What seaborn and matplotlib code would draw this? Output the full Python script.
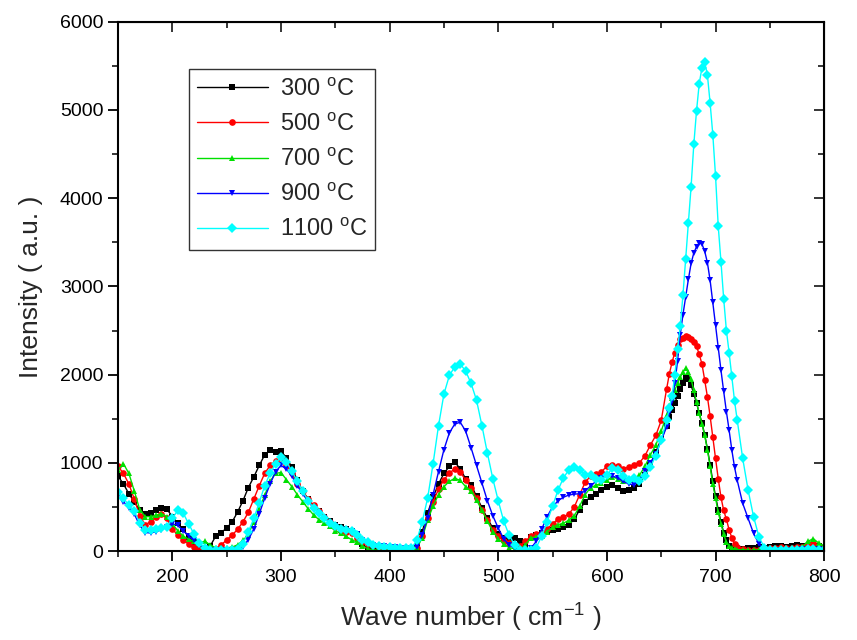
import matplotlib
matplotlib.use("Agg")
import matplotlib.pyplot as plt
import seaborn as sns
import pandas as pd
from matplotlib.ticker import MultipleLocator

# ---------------- data ----------------
wavenumber = [150, 155, 160, 165, 170, 175, 180, 185, 190, 195,
              200, 205, 210, 215, 220, 225, 230, 235, 240, 245,
              250, 255, 260, 265, 270, 275, 280, 285, 290, 295,
              300, 305, 310, 315, 320, 325, 330, 335, 340, 345,
              350, 355, 360, 365, 370, 375, 380, 385, 390, 395,
              400, 405, 410, 415, 420, 425, 430, 435, 440, 445,
              450, 455, 460, 465, 470, 475, 480, 485, 490, 495,
              500, 505, 510, 515, 520, 525, 530, 535, 540, 545,
              550, 555, 560, 565, 570, 575, 580, 585, 590, 595,
              600, 605, 610, 615, 620, 625, 630, 635, 640, 645, 650, 655,
              657.5, 660, 662.5, 665, 667.5, 670, 672.5, 675, 677.5, 680,
              682.5, 685, 687.5, 690, 692.5, 695, 697.5, 700, 702.5, 705,
              707.5, 710, 712.5, 715, 717.5,
              720, 725, 730, 735, 740, 745, 750, 755, 760, 765,
              770, 775, 780, 785, 790, 795, 800]

int_300 = [850, 760, 650, 555, 465, 420, 435, 460, 490, 475,
           390, 315, 245, 160, 105, 60, 30, 60, 170, 210,
           260, 330, 440, 570, 720, 840, 970, 1090, 1145, 1120,
           1130, 1060, 950, 800, 680, 590, 510, 450, 390, 340,
           300, 270, 250, 230, 190, 80, 20, 10, 10, 10,
           10, 10, 10, 10, 15, 60, 220, 430, 610, 760,
           880, 960, 1010, 930, 820, 750, 620, 490, 370, 260,
           190, 150, 125, 150, 110, 80, 160, 180, 200, 220,
           240, 255, 270, 300, 360, 470, 560, 615, 650, 690,
           730, 745, 710, 685, 690, 710, 760, 860, 980, 1120, 1270, 1420,
           1520, 1600, 1680, 1760, 1840, 1900, 1960, 1950, 1880, 1780,
           1680, 1560, 1450, 1320, 1160, 980, 790, 620, 470, 330,
           210, 120, 60, 35, 25,
           20, 25, 30, 40, 45, 40, 50, 60, 55, 50,
           60, 70, 60, 55, 65, 60, 40]

int_500 = [960, 880, 760, 590, 400, 300, 330, 390, 420, 370,
           250, 180, 125, 80, 45, 20, 10, 10, 25, 70,
           125, 180, 245, 330, 440, 590, 740, 880, 970, 1020,
           1050, 980, 880, 760, 680, 590, 520, 450, 390, 330,
           270, 230, 215, 200, 150, 105, 85, 65, 45, 30,
           30, 30, 30, 30, 25, 40, 170, 380, 560, 700,
           810, 880, 935, 900, 800, 720, 600, 470, 350, 240,
           170, 110, 90, 70, 60, 110, 170, 190, 200, 250,
           310, 360, 385, 420, 500, 640, 780, 850, 870, 900,
           960, 980, 960, 935, 950, 980, 1000, 1080, 1200, 1310, 1480, 1840,
           2010, 2140, 2250, 2340, 2400, 2420, 2440, 2430, 2400, 2370,
           2320, 2230, 2120, 1940, 1750, 1530, 1290, 1050, 820, 610,
           460, 360, 240, 150, 85,
           50, 25, 15, 10, 10, 20, 30, 40, 50, 40,
           40, 45, 50, 80, 90, 60, 40]

int_700 = [920, 990, 880, 680, 470, 390, 390, 405, 425, 390,
           310, 230, 170, 135, 110, 95, 110, 70, 35, 30,
           35, 45, 70, 120, 190, 330, 480, 630, 790, 880,
           890, 810, 730, 640, 560, 480, 410, 355, 320, 280,
           230, 200, 165, 130, 100, 60, 25, 15, 10, 10,
           10, 10, 10, 10, 10, 30, 150, 350, 510, 640,
           730, 790, 825, 800, 730, 680, 580, 460, 340, 220,
           140, 80, 40, 25, 20, 70, 150, 160, 170, 220,
           270, 300, 315, 350, 400, 510, 640, 720, 745, 770,
           805, 840, 820, 790, 800, 800, 860, 960, 1090, 1200, 1360, 1540,
           1640, 1730, 1820, 1900, 1970, 2030, 2070, 2030, 1950, 1820,
           1690, 1560, 1440, 1310, 1150, 960, 760, 600, 440, 310,
           190, 100, 55, 30, 20,
           15, 15, 10, 10, 15, 20, 30, 35, 40, 35,
           30, 40, 50, 110, 140, 90, 60]

int_900 = [620, 560, 490, 420, 290, 210, 205, 220, 240, 275,
           310, 290, 230, 170, 120, 70, 35, 15, 10, 10,
           10, 10, 20, 45, 130, 250, 420, 600, 760, 900,
           970, 930, 850, 740, 650, 560, 490, 430, 370, 320,
           280, 255, 240, 225, 190, 130, 90, 70, 60, 55,
           50, 45, 40, 30, 20, 50, 180, 380, 640, 900,
           1150, 1340, 1440, 1460, 1360, 1170, 970, 770, 570, 400,
           260, 140, 70, 30, 10, 10, 30, 110, 250, 390,
           500, 570, 610, 635, 645, 650, 680, 740, 790, 830,
           860, 850, 830, 790, 760, 750, 810, 910, 1000, 1100, 1250, 1410,
           1560, 1700, 1900, 2150, 2450, 2680, 2880, 3080, 3260, 3380,
           3450, 3490, 3480, 3400, 3270, 3070, 2820, 2560, 2300, 2050,
           1810, 1580, 1370, 1145, 950,
           800, 540, 370, 200, 80, 15, 10, 10, 10, 10,
           10, 15, 20, 20, 25, 20, 15]

int_1100 = [670, 600, 520, 450, 320, 240, 240, 250, 260, 275,
            370, 460, 430, 310, 190, 90, 35, 10, 10, 10,
            10, 10, 20, 80, 220, 370, 550, 740, 880, 990,
            1070, 1010, 910, 790, 680, 570, 490, 430, 370, 315,
            280, 255, 240, 225, 180, 130, 100, 70, 55, 50,
            45, 40, 30, 30, 30, 120, 330, 600, 990, 1420,
            1780, 1990, 2090, 2120, 2040, 1900, 1710, 1420, 1110, 820,
            570, 340, 180, 70, 15, 10, 10, 40, 170, 330,
            510, 690, 830, 920, 955, 920, 860, 860, 820, 800,
            860, 940, 920, 850, 810, 830, 790, 850, 950, 1080, 1260, 1480,
            1620, 1760, 1990, 2290, 2550, 2900, 3310, 3720, 4130, 4610,
            4990, 5300, 5480, 5540, 5400, 5080, 4720, 4250, 3680, 3280,
            2860, 2500, 2250, 1980, 1700,
            1480, 1050, 690, 390, 160, 35, 10, 10, 10, 10,
            10, 10, 15, 20, 20, 15, 10]

series_labels = ["300 $^{\\mathrm{o}}$C", "500 $^{\\mathrm{o}}$C", "700 $^{\\mathrm{o}}$C",
                 "900 $^{\\mathrm{o}}$C", "1100 $^{\\mathrm{o}}$C"]
series_values = [int_300, int_500, int_700, int_900, int_1100]
colors = ["#000000", "#ff0000", "#00e000", "#0000ff", "#00ffff"]
markers = ["s", "o", "^", "v", "D"]

x_ticks = [200, 300, 400, 500, 600, 700, 800]
y_ticks = [0, 1000, 2000, 3000, 4000, 5000, 6000]

# ---------------- build long table ----------------
rows = []
for lab, vals in zip(series_labels, series_values):
    for w, v in zip(wavenumber, vals):
        rows.append((w, v, lab))
df = pd.DataFrame(rows, columns=["wn", "I", "T"])

# ---------------- plotting ----------------
sns.set_style("ticks")
plt.rcParams["font.family"] = ["Liberation Sans", "DejaVu Sans"]
plt.rcParams["mathtext.fontset"] = "custom"
plt.rcParams["mathtext.rm"] = "Liberation Sans"

fig = plt.figure(figsize=(8.57, 6.4), dpi=100)
ax = fig.add_axes([0.1377, 0.139, 0.824, 0.827])

sns.lineplot(data=df, x="wn", y="I", hue="T", style="T",
             hue_order=series_labels, style_order=series_labels,
             palette=colors, markers=markers, dashes=False,
             estimator=None, sort=False, linewidth=1.0,
             markersize=4.8, markeredgewidth=0, legend=False, ax=ax)

ax.set_xlim(150, 800)
ax.set_ylim(0, 6000)
ax.set_xticks(x_ticks)
ax.set_yticks(y_ticks)
ax.xaxis.set_minor_locator(MultipleLocator(50))
ax.yaxis.set_minor_locator(MultipleLocator(500))
ax.tick_params(axis="both", which="major", direction="out", length=7, width=1.3,
               labelsize=14, colors="black")
ax.tick_params(axis="x", which="major", pad=6)
ax.tick_params(axis="both", which="minor", direction="out", length=4, width=1.3)

for sp in ax.spines.values():
    sp.set_visible(True)
    sp.set_linewidth(1.5)
    sp.set_color("black")

secx = ax.secondary_xaxis("top")
secx.set_xticks(x_ticks)
secx.xaxis.set_minor_locator(MultipleLocator(50))
secx.tick_params(which="major", direction="in", length=7, width=1.3, labeltop=False)
secx.tick_params(which="minor", direction="in", length=4, width=1.3)
secy = ax.secondary_yaxis("right")
secy.set_yticks(y_ticks)
secy.yaxis.set_minor_locator(MultipleLocator(500))
secy.tick_params(which="major", direction="in", length=7, width=1.3, labelright=False)
secy.tick_params(which="minor", direction="in", length=4, width=1.3)

ax.set_xlabel("Wave number ( cm$^{\\mathrm{-1}}$ )", fontsize=19, labelpad=10)
ax.set_ylabel("Intensity ( a.u. )", fontsize=19, labelpad=12)

leg = ax.legend(handles=ax.lines[:5], labels=series_labels, loc="upper left",
                bbox_to_anchor=(0.1, 0.91), frameon=True, fancybox=False,
                edgecolor="black", fontsize=17, handlelength=3.0, numpoints=1,
                borderpad=0.35, labelspacing=0.52, handletextpad=0.5,
                borderaxespad=0)
leg.get_frame().set_linewidth(1.0)

fig.savefig("out.png", dpi=100)
